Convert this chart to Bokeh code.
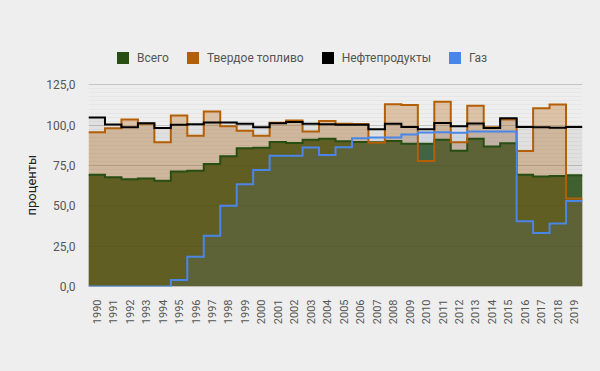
import math
from bokeh.plotting import figure
from bokeh.models import Range1d, FixedTicker, Legend, LegendItem, Title
from bokeh.embed import file_html
from bokeh.resources import INLINE

years = [str(y) for y in range(1990, 2020)]

vsego = [69.3, 67.7, 66.4, 66.9, 65.6, 71.2, 71.8, 76.0, 80.7, 85.7,
         86.0, 89.6, 88.9, 90.9, 91.5, 90.0, 89.6, 89.4, 90.2, 88.4,
         88.4, 90.9, 84.2, 91.5, 86.7, 88.8, 69.3, 68.1, 68.5, 69.0]

tverdoe = [95.6, 98.1, 103.5, 100.8, 89.4, 106.0, 93.5, 108.4, 99.3, 96.5,
           93.4, 101.5, 102.9, 96.0, 102.6, 100.9, 100.7, 89.1, 113.0, 112.5,
           77.8, 114.5, 89.4, 112.0, 98.7, 103.5, 84.0, 110.5, 112.8, 54.6]

neft = [104.7, 100.4, 98.7, 101.2, 98.3, 100.2, 100.6, 101.6, 101.6, 100.8,
        98.7, 101.2, 102.0, 100.8, 100.5, 100.3, 100.2, 97.4, 100.8, 98.9,
        97.4, 101.4, 99.3, 101.0, 98.3, 104.3, 98.9, 98.7, 98.4, 98.9]

gaz = [0.0, 0.0, 0.0, 0.0, 0.0, 4.1, 18.4, 31.5, 50.1, 63.3,
       72.2, 81.1, 81.1, 86.1, 81.5, 86.3, 91.9, 92.3, 92.3, 94.2,
       95.4, 95.6, 95.3, 96.0, 96.0, 96.0, 40.4, 33.1, 39.1, 53.0]

series_names = ["Всего", "Твердое топливо", "Нефтепродукты", "Газ"]
series_values = [vsego, tverdoe, neft, gaz]
colors = ["#274e13", "#b45f06", "#000000", "#4a86e8"]
area_alpha = [0.85, 0.3, 0.06, 0.1]

y_ticks = [0, 25, 50, 75, 100, 125]
y_tick_labels = ["0,0", "25,0", "50,0", "75,0", "100,0", "125,0"]
y_axis_title = "проценты"

BG = "#eeeeee"
FONT = "Roboto"


def steps(vals):
    xs, ys = [], []
    for i, v in enumerate(vals):
        xs += [i, i + 1]
        ys += [v, v]
    return xs, ys


# frame extends above the 125 line (blank area used for the legend)
p = figure(width=600, height=371,
           x_range=Range1d(0, len(years)), y_range=Range1d(0, 166.1),
           output_backend="svg", toolbar_location=None,
           min_border_left=88, min_border_right=18,
           min_border_top=18, min_border_bottom=85)

p.background_fill_color = BG
p.border_fill_color = BG
p.outline_line_color = None

# areas
for vals, c, a in zip(series_values, colors, area_alpha):
    xs, ys = steps(vals)
    p.varea(x=xs, y1=[0] * len(xs), y2=ys, fill_color=c, fill_alpha=a)

# lines
for vals, c in zip(series_values, colors):
    xs, ys = steps(vals)
    p.line(x=xs, y=ys, line_color=c, line_width=2, line_join="miter")

# legend swatches (renderers with a single NaN row: nothing drawn in the plot)
nan = float("nan")
items = []
for name, c in zip(series_names, colors):
    r = p.quad(left=[nan], right=[nan], top=[nan], bottom=[nan],
               fill_color=c, line_color=None)
    items.append(LegendItem(label=name, renderers=[r]))

legend = Legend(items=items, orientation="horizontal", location=(27, 221),
                glyph_width=15, glyph_height=15, label_standoff=7, spacing=16,
                padding=0, margin=0, border_line_color=None,
                background_fill_alpha=0, label_text_font=FONT,
                label_text_font_size="12px", label_text_color="#555555")
p.add_layout(legend)

# axes
p.yaxis.ticker = FixedTicker(ticks=y_ticks,
                             minor_ticks=[k * 2.5 for k in range(51) if k % 10 != 0])
p.yaxis.major_label_overrides = {t: l for t, l in zip(y_ticks, y_tick_labels)}
p.yaxis.major_label_text_font = FONT
p.yaxis.major_label_text_font_size = "12px"
p.yaxis.major_label_text_color = "#555555"
p.yaxis.major_label_standoff = 7

# y-axis title placed in the left panel, centred on the 0..125 part
p.add_layout(Title(text=y_axis_title, align="left", offset=71,
                   text_font=FONT, text_font_size="13px",
                   text_font_style="normal", text_color="#222222"), "left")

p.xaxis.ticker = FixedTicker(ticks=[i + 0.5 for i in range(len(years))])
p.xaxis.major_label_overrides = {i + 0.5: y for i, y in enumerate(years)}
p.xaxis.major_label_orientation = math.pi / 2
p.xaxis.major_label_text_font = FONT
p.xaxis.major_label_text_font_size = "11px"
p.xaxis.major_label_text_color = "#555555"
p.xaxis.major_label_standoff = 7

for ax in (p.xaxis, p.yaxis):
    ax.axis_line_color = None
    ax.major_tick_line_color = None
    ax.minor_tick_line_color = None

p.xgrid.visible = False
p.ygrid.ticker = p.yaxis.ticker
p.ygrid.grid_line_color = "#c4c4c4"
p.ygrid.minor_grid_line_color = "#e6e6e6"

html = file_html(p, INLINE)
html = html.replace("<head>", "<head><style>body{background:%s;}</style>" % BG, 1)
open("out.html", "w").write(html)
